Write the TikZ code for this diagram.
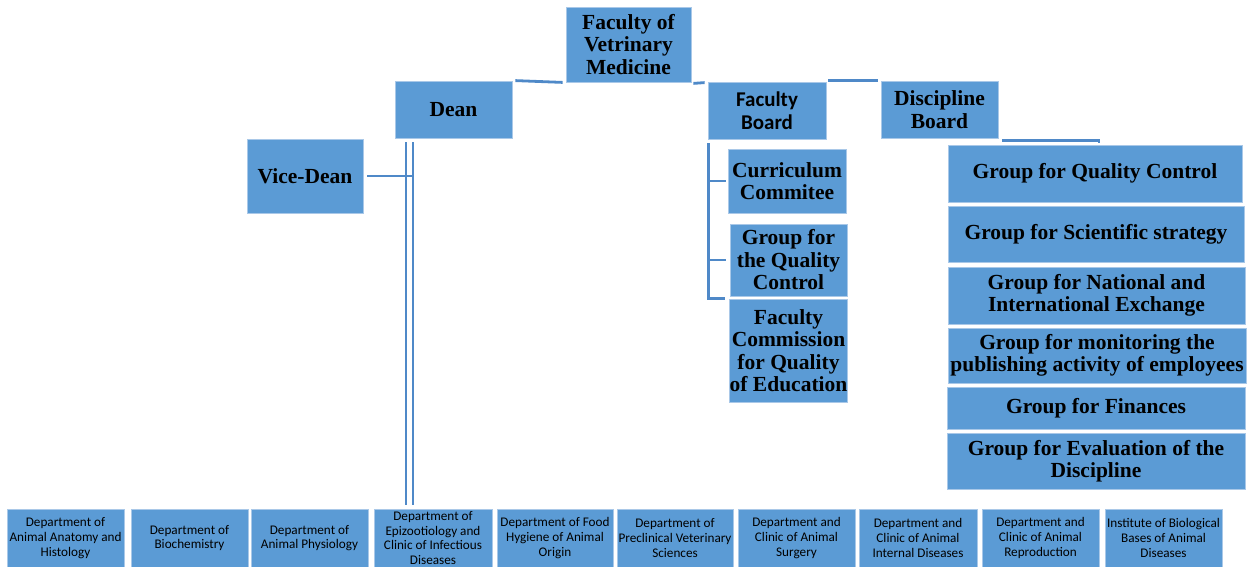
\documentclass[tikz,border=0pt]{standalone}
\usepackage{fontspec}
\setmainfont{Liberation Serif}
\newfontfamily\calib{Carlito}
\usetikzlibrary{calc}
\definecolor{boxc}{HTML}{5B9BD5}
\definecolor{linec}{HTML}{4F89C8}
\definecolor{edgec}{HTML}{A9C8E8}
\tikzset{
  box/.style={draw=edgec, line width=0.8pt, fill=boxc, inner sep=0pt, align=center, text=black},
  serifbig/.style={font=\bfseries\fontsize{21.5}{22.5}\selectfont},
  sansbig/.style={font=\calib\bfseries\fontsize{21}{23.5}\selectfont},
  dept/.style={font=\calib\fontsize{13.2}{14.8}\selectfont},
  conn/.style={draw=linec, line width=2.8pt},
  thin/.style={draw=linec, line width=2.4pt}
}
\newcommand{\bx}[7]{%
  \node[box,#6,minimum width={(#4-#2)*1pt},minimum height={(#5-#3)*1pt}] (#1) at ({(#2+#4)/2},{(#3+#5)/2}) {#7};}
\begin{document}
\begin{tikzpicture}[x=1pt,y=-1pt]
\useasboundingbox (0,0) rectangle (1247,566);
% top level
\bx{fvm}{566}{7}{691}{82}{serifbig}{Faculty of\\Vetrinary\\Medicine}
\bx{dean}{395}{81}{512}{138}{serifbig}{Dean}
\bx{fb}{708}{82}{826}{139}{sansbig}{Faculty\\Board}
\bx{db}{881}{81}{998}{138}{serifbig}{Discipline\\Board}
\bx{vd}{247}{139}{363}{213}{serifbig}{Vice-Dean}
% faculty board children
\bx{cc}{728}{149}{846}{213}{serifbig}{Curriculum\\Commitee}
\bx{gqc}{730}{224}{847}{296}{serifbig}{Group for\\the Quality\\Control}
\bx{fcq}{730}{299}{847}{402}{serifbig}{Faculty\\Commission\\for Quality\\of Education}
% discipline board children
\bx{g1}{948}{145}{1242}{202}{serifbig}{Group for Quality Control}
\bx{g2}{948}{206}{1244}{262}{serifbig}{Group for Scientific strategy}
\bx{g3}{948}{267}{1245}{324}{serifbig}{Group for National and\\International Exchange}
\bx{g4}{948}{328}{1246}{383}{serifbig}{Group for monitoring the\\publishing activity of employees}
\bx{g5}{947}{387}{1245}{429}{serifbig}{Group for Finances}
\bx{g6}{947}{433}{1245}{489}{serifbig}{Group for Evaluation of the\\Discipline}
% departments
\bx{d1}{7}{509}{124}{567}{dept}{Department of\\Animal Anatomy and\\Histology}
\bx{d2}{131}{509}{248}{567}{dept}{Department of\\Biochemistry}
\bx{d3}{251}{509}{368}{567}{dept}{Department of\\Animal Physiology}
\bx{d4}{374}{509}{492}{567}{dept}{Department of\\Epizootiology and\\Clinic of Infectious\\Diseases}
\bx{d5}{497}{509}{613}{567}{dept}{Department of Food\\Hygiene of Animal\\Origin}
\bx{d6}{617}{509}{733}{567}{dept}{Department of\\Preclinical Veterinary\\Sciences}
\bx{d7}{738}{509}{855}{567}{dept}{Department and\\Clinic of Animal\\Surgery}
\bx{d8}{859}{509}{977}{567}{dept}{Department and\\Clinic of Animal\\Internal Diseases}
\bx{d9}{982}{509}{1099}{567}{dept}{Department and\\Clinic of Animal\\Reproduction}
\bx{d10}{1105}{509}{1222}{567}{dept}{Institute of Biological\\Bases of Animal\\Diseases}
% top connectors
\draw[conn] ($(dean.north east)+(3,0)$) -- ($(fvm.south west)+(-3,0)$);
\draw[conn] ($(fvm.south east)+(2,1)$) -- ($(fb.north west)+(-3,1)$);
\draw[conn] ($(fb.north east)+(2,-1)$) -- ($(db.north west)+(-3,0)$);
% dean double line to departments
\coordinate (dl1) at (406,142);
\coordinate (dl2) at (413,142);
\draw[thin] (dl1) -- ($(dl1 |- d4.north)+(0,-4)$);
\draw[conn] (dl2) -- ($(dl2 |- d4.north)+(0,-4)$);
\draw[thin] (vd.east) ++(4,0) coordinate (vde) -- (vde -| dl2);
% faculty board tree
\coordinate (fbt) at ($(fb.south west)+(1,4)$);
\draw[conn] (fbt) -- (fbt |- fcq.north) -- ($(fcq.north west)+(-4,0)$);
\draw[conn] (fbt |- cc.west) -- ($(cc.west)+(-2,0)$);
\draw[conn] (fbt |- gqc.west) -- ($(gqc.west)+(-4,0)$);
% discipline board connector
\coordinate (dbe) at ($(db.south east)+(4,2)$);
\draw[conn] (dbe) -- ($(dbe -| g1.center)+(4,0)$) -- ++(0,3);
\end{tikzpicture}
\end{document}
